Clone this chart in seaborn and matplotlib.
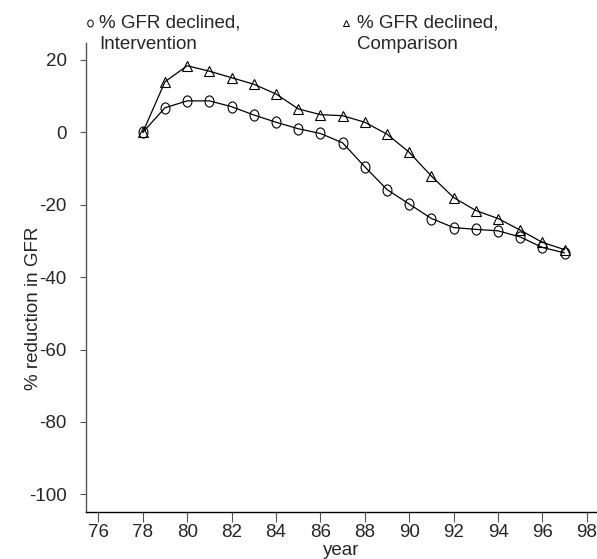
import numpy as np
import pandas as pd
import matplotlib
matplotlib.use('Agg')
import matplotlib.pyplot as plt
import seaborn as sns
from matplotlib.path import Path
from matplotlib.transforms import Affine2D
from matplotlib.lines import Line2D

years = list(range(78, 98))
intervention = [0, 6.8, 8.7, 8.7, 7.1, 4.8, 2.8, 1.0, -0.3, -2.9,
                -9.5, -15.8, -19.8, -23.8, -26.3, -26.8, -27.2, -28.9, -31.8, -33.3]
comparison = [0, 14.0, 18.4, 16.9, 15.1, 13.3, 10.6, 6.5, 4.9, 4.6,
              2.8, -0.5, -5.5, -12.1, -18.0, -21.6, -23.8, -27.0, -30.4, -32.4]
x_ticks = list(range(76, 100, 2))
y_ticks = [20, 0, -20, -40, -60, -80, -100]

df = pd.DataFrame({'year': years, 'Intervention': intervention, 'Comparison': comparison})

sns.set_style('white')
plt.rcParams['font.family'] = ['Liberation Sans', 'DejaVu Sans']
plt.rcParams['font.size'] = 13.5
plt.rcParams['axes.unicode_minus'] = False

# tall ellipse used for the circle markers
ellipse = Path.unit_circle().transformed(Affine2D().scale(0.8, 1.0))

fig = plt.figure(figsize=(5.97, 5.59), dpi=100)
ax = fig.add_axes([0.1436, 0.0846, 0.8565, 0.8379])

sns.lineplot(data=df, x='year', y='Intervention', ax=ax, color='black', lw=0.9,
             marker=ellipse, markersize=8, markerfacecolor='none',
             markeredgecolor='black', markeredgewidth=0.8)
sns.lineplot(data=df, x='year', y='Comparison', ax=ax, color='black', lw=0.9,
             marker='^', markersize=7, markerfacecolor='none',
             markeredgecolor='black', markeredgewidth=0.8)

ax.set_xlim(75.43, 98.46)
ax.set_ylim(-104.8, 24.6)
ax.set_xticks(x_ticks)
ax.set_yticks(y_ticks)

for s in ['top', 'right']:
    ax.spines[s].set_visible(False)
ax.spines['left'].set_color('#555555')
ax.spines['bottom'].set_color('black')
ax.spines['left'].set_linewidth(1.0)
ax.spines['bottom'].set_linewidth(1.0)

ax.tick_params(axis='x', direction='out', length=7, width=0.8, color='#555555',
               pad=2, labelsize=13.5, bottom=True)
ax.tick_params(axis='y', direction='out', length=4.6, width=0.8, color='#555555',
               pad=9, labelsize=13.5, left=True)

ax.set_xlabel('year', fontsize=13.5)
ax.set_ylabel('% reduction in GFR', fontsize=13.5)
ax.xaxis.set_label_coords(0.5, -0.064)
ax.yaxis.set_label_coords(-0.086, 0.435)

# legend drawn by hand: marker + two lines of text per entry
W, H = 597, 559
def fx(px):
    return px / W
def fy(py):
    return 1 - py / H

fig.add_artist(Line2D([fx(90)], [fy(23)], marker=ellipse, markersize=5,
                      mfc='none', mec='black', mew=0.7, transform=fig.transFigure))
fig.add_artist(Line2D([fx(346)], [fy(23)], marker='^', markersize=4.5,
                      mfc='none', mec='black', mew=0.7, transform=fig.transFigure))
fig.text(fx(99), fy(27), '% GFR declined,', va='baseline', ha='left', fontsize=13.5)
fig.text(fx(99), fy(49), 'Intervention', va='baseline', ha='left', fontsize=13.5)
fig.text(fx(357), fy(27), '% GFR declined,', va='baseline', ha='left', fontsize=13.5)
fig.text(fx(357), fy(49), 'Comparison', va='baseline', ha='left', fontsize=13.5)

fig.savefig('out.png', dpi=100)
